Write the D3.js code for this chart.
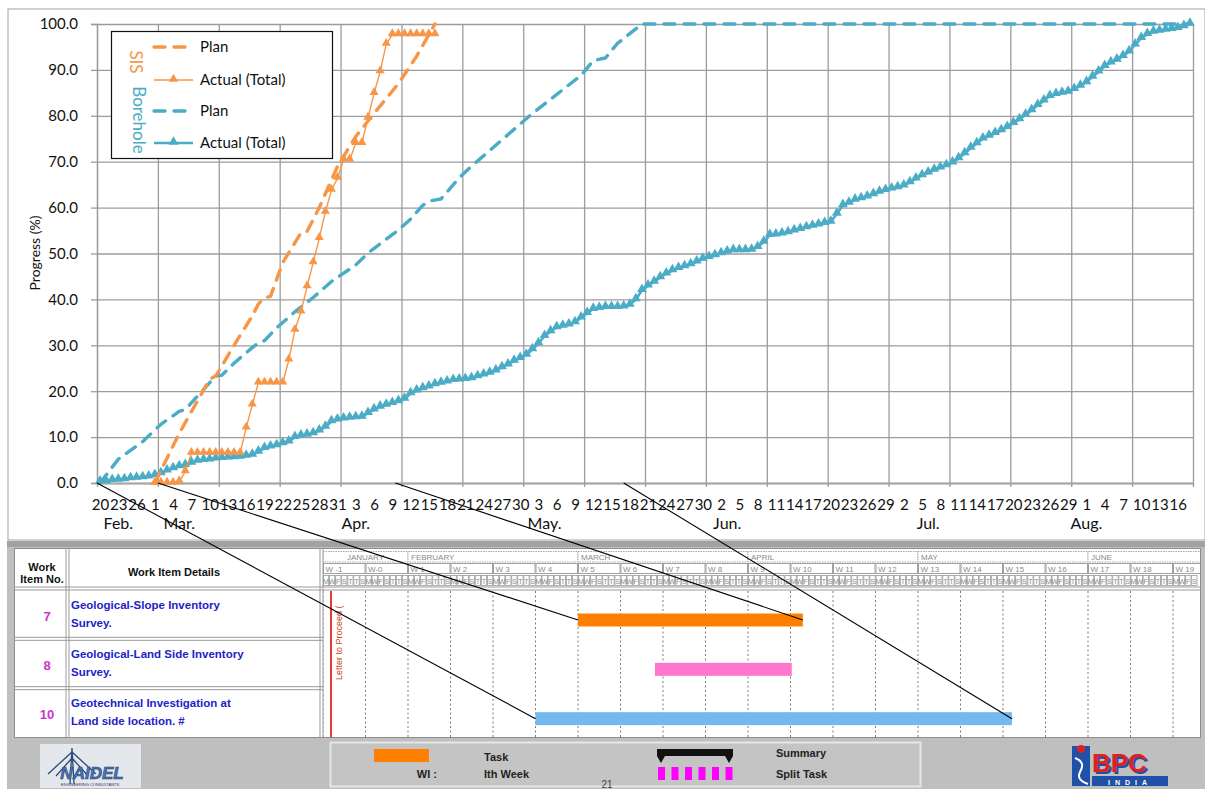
<!DOCTYPE html>
<html>
<head>
<meta charset="utf-8">
<script src="https://cdn.jsdelivr.net/npm/d3@7"></script>
<style>
  body { margin: 0; background: #fff; }
  svg { display: block; font-family: Lato, "Liberation Sans", sans-serif; }
  .grid line { stroke: #9c9c9c; stroke-width: 1.3; }
  .grid path { display: none; }
  .axis text { font-size: 15px; fill: #111; font-family: Lato, sans-serif; }
  .gantt text { font-family: "Liberation Sans", Arial, sans-serif; }
</style>
</head>
<body>
<div id="chart"></div>
<script>
var width = 1205, height = 789
var plot = {left: 97, right: 1193, top: 24, bottom: 483}

// ---------- chart data ----------
var startDay = '2019-02-20'
var endDay = '2019-08-19'
var xLabelStep = 3
var gridStepDays = 10
var yTicks = [0, 10, 20, 30, 40, 50, 60, 70, 80, 90, 100]

var monthLabels = ['Feb.', 'Mar.', 'Apr.', 'May.', 'Jun.', 'Jul.', 'Aug.']
var monthLabelDates = ['2019-02-23', '2019-03-05', '2019-04-03', '2019-05-04', '2019-06-03', '2019-07-06', '2019-08-01']

// SIS
var sisPlanDates = ['2019-03-01', '2019-03-05', '2019-03-10', '2019-03-11', '2019-03-14', '2019-03-17', '2019-03-18',
  '2019-03-19', '2019-03-20', '2019-03-22', '2019-03-25', '2019-03-26', '2019-03-28', '2019-03-31', '2019-04-03',
  '2019-04-06', '2019-04-10', '2019-04-13', '2019-04-16']
var sisPlanValues = [0, 10.8, 22.6, 23.3, 30, 36.4, 39, 40.3, 40.7, 48, 54.5, 54.8, 60, 69, 75.5, 80.5, 87, 93, 100]

var sisActualStart = '2019-03-01'   // one value per day
var sisActualValues = [0, 0, 0, 0, 0.3, 2.5, 6.5, 6.5, 6.5, 6.5, 6.5, 6.5, 6.5, 6.5, 6.5, 12, 17,
  21.8, 21.8, 21.8, 21.8, 21.8, 26.8, 33.3, 37.3, 42.8, 48, 53.3, 59, 63.8, 66.4, 70.4, 70.4, 74, 74,
  79.5, 84.9, 89.6, 95.6, 97.7, 97.7, 97.7, 97.7, 97.7, 97.7, 97.7, 97.7]

// Borehole
var borePlanDates = ['2019-02-20', '2019-02-23', '2019-02-27', '2019-03-02', '2019-03-05', '2019-03-06', '2019-03-11',
  '2019-03-12', '2019-03-14', '2019-03-17', '2019-03-18', '2019-03-19', '2019-03-21', '2019-03-24', '2019-03-27',
  '2019-03-30', '2019-04-03', '2019-04-05', '2019-04-09', '2019-04-10', '2019-04-12', '2019-04-14', '2019-04-15',
  '2019-04-17', '2019-04-20', '2019-04-22', '2019-05-02', '2019-05-10', '2019-05-12', '2019-05-14', '2019-05-16',
  '2019-05-20', '2019-08-18']
var borePlanValues = [0, 5.2, 9.0, 12.8, 15.6, 16.0, 23.3, 23.5, 26.1, 29.5, 30.5, 31.0, 33.8, 37.3, 40.4, 43.9,
  47.5, 50.1, 54.1, 55.1, 57.5, 60.5, 61.4, 61.9, 66.5, 69, 80.5, 88.8, 92, 92.6, 95.8, 100, 100]

var boreActualStart = '2019-02-20'  // one value per day
var boreActualValues = [
  0.3, 0.4, 0.6, 0.7, 0.8, 1.0, 1.1, 1.2, 1.4, 1.7,
  2.1, 2.7, 3.2, 3.6, 3.9, 4.4, 4.8, 5.0, 5.1, 5.3,
  5.4, 5.5, 5.6, 5.7, 5.9, 6.1, 6.8, 7.6, 7.9, 8.2,
  8.6, 9.0, 10.0, 10.3, 10.5, 10.8, 11.4, 12.2, 13.4, 13.8,
  14.0, 14.2, 14.3, 14.4, 15.2, 16.0, 16.6, 17.0, 17.4, 17.8,
  18.3, 19.5, 20.1, 20.6, 21.0, 21.5, 21.8, 22.1, 22.4, 22.5,
  22.6, 22.8, 23.2, 23.6, 24.0, 24.5, 25.2, 25.8, 26.6, 27.2,
  27.9, 29.1, 30.4, 32.0, 33.0, 33.9, 34.2, 34.5, 35.0, 36.0,
  37.0, 37.9, 38.1, 38.3, 38.3, 38.3, 38.4, 38.8, 40.0, 42.0,
  43.0, 43.8, 44.8, 45.6, 46.3, 46.8, 47.2, 47.6, 48.2, 48.8,
  49.2, 49.6, 50.0, 50.4, 50.7, 50.7, 50.7, 50.8, 51.4, 52.5,
  54.0, 54.1, 54.3, 54.6, 55.0, 55.3, 55.7, 56.0, 56.3, 56.6,
  56.9, 58.6, 60.5, 61.0, 61.7, 62.0, 62.4, 62.9, 63.4, 63.8,
  64.1, 64.4, 64.8, 65.5, 66.3, 67.0, 67.6, 68.2, 68.7, 69.2,
  69.8, 70.7, 71.8, 73.0, 74.0, 75.0, 75.6, 76.2, 76.8, 77.5,
  78.4, 79.2, 80.2, 81.2, 82.3, 83.3, 84.3, 84.7, 85.0, 85.2,
  85.8, 86.5, 87.3, 88.5, 89.6, 90.8, 91.6, 92.2, 93.0, 94.0,
  95.5, 96.9, 97.8, 98.3, 98.5, 98.7, 98.9, 99.1, 99.5, 100.0]

var legendGroups = ['SIS', 'Borehole']
var legendNames = ['Plan', 'Actual (Total)', 'Plan', 'Actual (Total)']

// ---------- gantt data ----------
var ganttMonths = ['JANUARY', 'FEBRUARY', 'MARCH', 'APRIL', 'MAY', 'JUNE']
var ganttMonthWeeks = [-1, 1, 5, 9, 13, 17]
var ganttWeekLabels = ['W -1', 'W-0', 'W 1', 'W 2', 'W 3', 'W 4', 'W 5', 'W 6', 'W 7', 'W 8', 'W 9', 'W 10',
  'W 11', 'W 12', 'W 13', 'W 14', 'W 15', 'W 16', 'W 17', 'W 18', 'W 19']
var ganttDayLetters = ['M', 'W', 'F', 'S', 'T', 'T', 'S']
var taskIds = ['7', '8', '10']
var taskLine1 = ['Geological-Slope Inventory', 'Geological-Land Side Inventory', 'Geotechnical Investigation at']
var taskLine2 = ['Survey.', 'Survey.', 'Land side location. #']
var taskStartWeek = [5, 6.81, 4]
var taskEndWeek = [10.29, 10.03, 15.21]

// lines that tie the progress chart to the gantt bars
var connectorDates = ['2019-02-20T00', '2019-03-02T00', '2019-04-10T00', '2019-05-17T12']
var connectorTask = [2, 0, 0, 2]
var connectorEnd = ['start', 'start', 'end', 'end']

// ---------- styles ----------
var orange = '#F79646', blue = '#4BACC6'
var taskColors = ['#FF8000', '#FF77CC', '#74B9EE']

var parseDay = d3.timeParse('%Y-%m-%d')
var parseHour = d3.timeParse('%Y-%m-%dT%H')
var noon = d => d3.timeHour.offset(d, 12)

var svg = d3.select('#chart').append('svg')
  .attr('width', width)
  .attr('height', height)

// chart frame
svg.append('rect')
  .attr('x', 8).attr('y', 9)
  .attr('width', width - 8).attr('height', 531)
  .attr('fill', '#fff')
  .attr('stroke', '#a0a0a0')

var x = d3.scaleTime()
  .domain([parseDay(startDay), parseDay(endDay)])
  .range([plot.left, plot.right])

var y = d3.scaleLinear()
  .domain([0, 100])
  .range([plot.bottom, plot.top])

var gridDays = d3.range(0, 181, gridStepDays).map(i => d3.timeDay.offset(parseDay(startDay), i))

// Y grid
svg.append('g')
  .attr('class', 'grid')
  .attr('transform', `translate(${plot.left},0)`)
  .call(d3.axisLeft(y).tickValues(yTicks).tickSize(-(plot.right - plot.left)).tickFormat(''))

// X grid
svg.append('g')
  .attr('class', 'grid')
  .attr('transform', `translate(0,${plot.bottom})`)
  .call(d3.axisBottom(x).tickValues(gridDays).tickSize(-(plot.bottom - plot.top)).tickFormat(''))

// Y axis
var yAxisG = svg.append('g')
  .attr('class', 'axis')
  .attr('transform', `translate(${plot.left},0)`)
  .call(d3.axisLeft(y).tickValues(yTicks).tickSize(6).tickPadding(13).tickFormat(d3.format('.1f')))
yAxisG.selectAll('line, path').attr('stroke', '#9c9c9c').attr('stroke-width', 1.3)

// X axis line + ticks
var xAxisG = svg.append('g')
  .attr('class', 'axis')
  .attr('transform', `translate(0,${plot.bottom})`)
  .call(d3.axisBottom(x).tickValues(gridDays).tickSize(4).tickSizeOuter(0).tickFormat(''))
xAxisG.selectAll('line').attr('stroke', '#9c9c9c').attr('stroke-width', 1.3)
xAxisG.select('.domain').attr('stroke', '#a8a8a8').attr('stroke-width', 2.2)

// X labels, every 3 days
var labelDays = d3.range(0, 178, xLabelStep).map(i => noon(d3.timeDay.offset(parseDay(startDay), i)))
svg.append('g')
  .attr('class', 'axis')
  .attr('transform', `translate(0,${plot.bottom})`)
  .call(d3.axisBottom(x).tickValues(labelDays).tickSize(0).tickPadding(16).tickFormat(d3.timeFormat('%-d')))
  .call(g => g.select('.domain').remove())

svg.append('g')
  .selectAll('text')
  .data(monthLabels)
  .enter()
  .append('text')
  .attr('x', (d, i) => x(noon(parseDay(monthLabelDates[i]))))
  .attr('y', 529)
  .attr('text-anchor', 'middle')
  .style('font-size', '16px')
  .style('fill', '#111')
  .text(d => d)

// Y title
svg.append('text')
  .attr('transform', 'translate(40,253) rotate(-90)')
  .attr('text-anchor', 'middle')
  .style('font-size', '14px')
  .style('fill', '#111')
  .text('Progress (%)')

// ---------- series ----------
var line = d3.line()
  .x(d => x(noon(d.date)))
  .y(d => y(d.v))

var sisPlan = sisPlanDates.map((d, i) => ({date: parseDay(d), v: sisPlanValues[i]}))
var borePlan = borePlanDates.map((d, i) => ({date: parseDay(d), v: borePlanValues[i]}))
var sisActual = sisActualValues.map((v, i) => ({date: d3.timeDay.offset(parseDay(sisActualStart), i), v: v}))
var boreActual = boreActualValues.map((v, i) => ({date: d3.timeDay.offset(parseDay(boreActualStart), i), v: v}))

var tri = d3.symbol().type(d3.symbolTriangle)

function drawPlan(data, color) {
  svg.append('path')
    .datum(data)
    .attr('d', line)
    .attr('fill', 'none')
    .attr('stroke', color)
    .attr('stroke-width', 3.4)
    .attr('stroke-dasharray', '11,9')
    .attr('stroke-linecap', 'round')
}

function drawActual(data, color, w, size) {
  svg.append('path')
    .datum(data)
    .attr('d', line)
    .attr('fill', 'none')
    .attr('stroke', color)
    .attr('stroke-width', w)
  svg.append('g')
    .selectAll('path')
    .data(data)
    .enter()
    .append('path')
    .attr('d', tri.size(size)())
    .attr('transform', d => `translate(${x(noon(d.date))},${y(d.v) - 1})`)
    .attr('fill', color)
}

drawPlan(borePlan, blue)
drawActual(boreActual, blue, 2.6, 42)
drawPlan(sisPlan, orange)
drawActual(sisActual, orange, 1.4, 36)

// ---------- legend ----------
var legend = svg.append('g')
legend.append('rect')
  .attr('x', 111.5).attr('y', 31.5)
  .attr('width', 221).attr('height', 127)
  .attr('fill', '#fff')
  .attr('stroke', '#111')
  .attr('stroke-width', 1.2)

var legendRowY = [47, 80, 111, 143]
legendNames.forEach((name, i) => {
  var color = i < 2 ? orange : blue
  var yy = legendRowY[i]
  var s = legend.append('line')
    .attr('x1', 154).attr('x2', 193)
    .attr('y1', yy).attr('y2', yy)
    .attr('stroke', color)
  if (i % 2 === 0) {
    s.attr('stroke-width', 3.4).attr('stroke-dasharray', '11,9').attr('stroke-linecap', 'round')
  } else {
    s.attr('stroke-width', i === 1 ? 1.4 : 2.6)
    legend.append('path')
      .attr('d', tri.size(i === 1 ? 36 : 42)())
      .attr('transform', `translate(173.5,${yy - 1})`)
      .attr('fill', color)
  }
  legend.append('text')
    .attr('x', 200).attr('y', yy + 5)
    .style('font-size', '15px')
    .style('fill', '#111')
    .text(name)
})

legend.selectAll('.grp')
  .data(legendGroups)
  .enter()
  .append('text')
  .attr('transform', (d, i) => i === 0 ? 'translate(130,62) rotate(90)' : 'translate(133,120) rotate(90)')
  .attr('text-anchor', 'middle')
  .style('font-size', '17px')
  .style('fill', (d, i) => i === 0 ? orange : blue)
  .text(d => d)

// ---------- gantt ----------
var gantt = svg.append('g').attr('class', 'gantt')

gantt.append('rect').attr('x', 7).attr('y', 541).attr('width', width - 7).attr('height', height - 541).attr('fill', '#bfbfbf')
gantt.append('rect').attr('x', 7).attr('y', 541).attr('width', width - 7).attr('height', 6).attr('fill', '#a2a2a2')
gantt.append('rect')
  .attr('x', 14.5).attr('y', 548.5)
  .attr('width', 1186).attr('height', 189)
  .attr('fill', '#fff')
  .attr('stroke', '#8c8c8c')

var gx = d3.scaleLinear().domain([-1, 20]).range([323, 323 + 21 * 42.5])
var rowY = d3.scaleBand().domain(taskIds).range([589.5, 737.5])
var tlRight = 1200

gantt.append('clipPath').attr('id', 'tl-clip')
  .append('rect').attr('x', 323).attr('y', 548).attr('width', tlRight - 323).attr('height', 190)

var tl = gantt.append('g').attr('clip-path', 'url(#tl-clip)')

// month row
tl.selectAll('.month')
  .data(ganttMonths)
  .enter()
  .append('rect')
  .attr('x', (d, i) => gx(ganttMonthWeeks[i]))
  .attr('y', 551.5)
  .attr('width', (d, i) => gx(i < ganttMonths.length - 1 ? ganttMonthWeeks[i + 1] : 21) - gx(ganttMonthWeeks[i]))
  .attr('height', 10.5)
  .attr('fill', '#fff')
  .attr('stroke', '#a8a8a8')
  .attr('stroke-dasharray', '1.5,1')
gantt.selectAll('.monthText')
  .data(ganttMonths)
  .enter()
  .append('text')
  .attr('x', (d, i) => i === 0 ? (gx(-1) + gx(1)) / 2 : gx(ganttMonthWeeks[i]) + 3)
  .attr('y', 560)
  .attr('text-anchor', (d, i) => i === 0 ? 'middle' : 'start')
  .style('font-size', '8px')
  .style('fill', '#8a8a8a')
  .text(d => d)

// week row
tl.selectAll('.week')
  .data(ganttWeekLabels)
  .enter()
  .append('rect')
  .attr('x', (d, i) => gx(i - 1) + 0.5)
  .attr('y', 563.5)
  .attr('width', 41.5)
  .attr('height', 10)
  .attr('fill', '#fff')
  .attr('stroke', '#a0a0a0')
gantt.selectAll('.weekText')
  .data(ganttWeekLabels)
  .enter()
  .append('text')
  .attr('x', (d, i) => gx(i - 1) + 2.5)
  .attr('y', 571.5)
  .style('font-size', '8px')
  .style('fill', '#8a8a8a')
  .text(d => d)

// day row (only whole cells)
var dayW = 42.5 / 7
var dayCells = []
ganttWeekLabels.forEach((w, i) => ganttDayLetters.forEach((l, j) => dayCells.push({week: i - 1 + j / 7, letter: l})))
dayCells = dayCells.filter(d => gx(d.week) + dayW <= tlRight)
gantt.selectAll('.day')
  .data(dayCells)
  .enter()
  .append('rect')
  .attr('x', d => gx(d.week) + 0.5)
  .attr('y', 575.5)
  .attr('width', dayW - 0.8)
  .attr('height', 10)
  .attr('fill', '#fff')
  .attr('stroke', '#9a9a9a')
  .attr('stroke-width', 0.8)
gantt.selectAll('.dayText')
  .data(dayCells)
  .enter()
  .append('text')
  .attr('x', d => gx(d.week) + dayW / 2)
  .attr('y', 583.5)
  .attr('text-anchor', 'middle')
  .style('font-size', '7px')
  .style('fill', '#8a8a8a')
  .text(d => d.letter)

// dashed week lines
tl.selectAll('.wline')
  .data(d3.range(-1, 21))
  .enter()
  .append('line')
  .attr('x1', d => gx(d)).attr('x2', d => gx(d))
  .attr('y1', 591).attr('y2', 737)
  .attr('stroke', '#7a7a7a')
  .attr('stroke-dasharray', '2,2.5')

// table lines
var tlines = gantt.append('g').attr('stroke', '#9a9a9a').attr('fill', 'none')
;[587, 590].forEach(v => tlines.append('line').attr('x1', 14.5).attr('x2', 1200.5).attr('y1', v).attr('y2', v))
;[66, 69, 320, 323].forEach(v => tlines.append('line').attr('x1', v).attr('x2', v).attr('y1', 548.5).attr('y2', 737.5))
taskIds.slice(1).forEach(id => {
  var t = rowY(id)
  ;[t - 1.5, t + 1.5].forEach(v => tlines.append('line').attr('x1', 14.5).attr('x2', 323).attr('y1', v).attr('y2', v))
})

// header text
var hdr = gantt.append('g').style('font-weight', 'bold').style('fill', '#111').attr('text-anchor', 'middle')
hdr.append('text').attr('x', 42).attr('y', 571).style('font-size', '11px').text('Work')
hdr.append('text').attr('x', 42).attr('y', 583).style('font-size', '11px').text('Item No.')
hdr.append('text').attr('x', 174).attr('y', 576).style('font-size', '11px').text('Work Item Details')

// task rows
gantt.selectAll('.tid')
  .data(taskIds)
  .enter()
  .append('text')
  .attr('x', 47)
  .attr('y', d => rowY(d) + 31)
  .attr('text-anchor', 'middle')
  .style('font-size', '13px')
  .style('font-weight', 'bold')
  .style('fill', '#CC33CC')
  .text(d => d)

gantt.selectAll('.tl1')
  .data(taskIds)
  .enter()
  .append('text')
  .attr('x', 71)
  .attr('y', d => rowY(d) + 19)
  .style('font-size', '11.5px')
  .style('font-weight', 'bold')
  .style('fill', '#2222C8')
  .text((d, i) => taskLine1[i])

gantt.selectAll('.tl2')
  .data(taskIds)
  .enter()
  .append('text')
  .attr('x', 71)
  .attr('y', d => rowY(d) + 37)
  .style('font-size', '11.5px')
  .style('font-weight', 'bold')
  .style('fill', '#2222C8')
  .text((d, i) => taskLine2[i])

// letter to proceed
gantt.append('line')
  .attr('x1', 331).attr('x2', 331)
  .attr('y1', 591).attr('y2', 737)
  .attr('stroke', '#E8383A')
  .attr('stroke-width', 2)
gantt.append('text')
  .attr('transform', 'translate(342,680) rotate(-90)')
  .style('font-size', '9px')
  .style('fill', '#D04020')
  .text('Letter to Proceed (')

// bars
gantt.selectAll('.bar')
  .data(taskIds)
  .enter()
  .append('rect')
  .attr('x', (d, i) => gx(taskStartWeek[i]))
  .attr('y', d => rowY(d) + 24)
  .attr('width', (d, i) => gx(taskEndWeek[i]) - gx(taskStartWeek[i]))
  .attr('height', 13)
  .attr('fill', (d, i) => taskColors[i])

// footer legend
var foot = gantt.append('g')
foot.append('rect')
  .attr('x', 330.5).attr('y', 742.5)
  .attr('width', 590).attr('height', 44)
  .attr('fill', '#c4c4c4')
  .attr('stroke', '#e6e6e6')
  .attr('stroke-width', 2)
foot.append('rect').attr('x', 374).attr('y', 749).attr('width', 55).attr('height', 13).attr('fill', '#FF8000')
foot.append('path')
  .attr('d', 'M657,749H733V756L729,763L725,756H665L661,763L657,756Z')
  .attr('fill', '#111')
foot.selectAll('.split')
  .data(d3.range(6))
  .enter()
  .append('rect')
  .attr('x', d => 658 + d * 13.5)
  .attr('y', 767)
  .attr('width', 7)
  .attr('height', 13)
  .attr('fill', '#FF00FF')
var ft = foot.append('g').style('font-size', '11px').style('font-weight', 'bold').style('fill', '#222')
ft.append('text').attr('x', 484).attr('y', 761).text('Task')
ft.append('text').attr('x', 437).attr('y', 778).attr('text-anchor', 'end').text('WI :')
ft.append('text').attr('x', 484).attr('y', 778).text('Ith Week')
ft.append('text').attr('x', 776).attr('y', 757).text('Summary')
ft.append('text').attr('x', 776).attr('y', 778).text('Split Task')
foot.append('text').attr('x', 607).attr('y', 788).attr('text-anchor', 'middle')
  .style('font-size', '10px').style('fill', '#444').text('21')

// left logo
var lg = gantt.append('g')
lg.append('rect').attr('x', 40).attr('y', 744).attr('width', 101).attr('height', 44).attr('fill', '#e4e8ec')
lg.append('path')
  .attr('d', 'M72,748L70,784M72,748L74,784M72,752L48,774M72,752L96,774M72,758L56,776M72,758L88,776')
  .attr('stroke', '#2a4a7a').attr('stroke-width', 1.3).attr('fill', 'none')
lg.append('text').attr('x', 92).attr('y', 779).attr('text-anchor', 'middle')
  .style('font-size', '17px').style('font-weight', 'bold').style('font-style', 'italic')
  .style('fill', '#4a78b8').attr('stroke', '#1f3f70').attr('stroke-width', 0.6)
  .text('NAIDEL')
lg.append('text').attr('x', 90).attr('y', 786).attr('text-anchor', 'middle')
  .style('font-size', '4px').style('fill', '#335').text('ENGINEERING CONSULTANTS')

// right logo
var rl = gantt.append('g')
rl.append('rect').attr('x', 1072).attr('y', 746).attr('width', 18).attr('height', 40).attr('fill', '#2050A8')
rl.append('circle').attr('cx', 1081).attr('cy', 749).attr('r', 4).attr('fill', '#E02020')
rl.append('path').attr('d', 'M1075,758Q1086,762 1080,772Q1076,780 1088,784').attr('stroke', '#fff').attr('stroke-width', 2).attr('fill', 'none')
rl.append('rect').attr('x', 1092).attr('y', 776).attr('width', 76).attr('height', 10).attr('fill', '#2050A8')
rl.append('text').attr('x', 1092).attr('y', 772).style('font-size', '26px').style('font-weight', 'bold')
  .style('fill', '#E02020').style('text-shadow', '2px 2px 0 #2050A8').text('BPC')
rl.append('text').attr('x', 1130).attr('y', 784.5).attr('text-anchor', 'middle')
  .style('font-size', '7px').style('font-weight', 'bold').style('fill', '#fff').style('letter-spacing', '5px')
  .text('INDIA')

// connector lines
svg.append('g')
  .selectAll('line')
  .data(connectorDates)
  .enter()
  .append('line')
  .attr('x1', d => x(parseHour(d)))
  .attr('y1', y(0))
  .attr('x2', (d, i) => gx(connectorEnd[i] === 'start' ? taskStartWeek[connectorTask[i]] : taskEndWeek[connectorTask[i]]))
  .attr('y2', (d, i) => rowY(taskIds[connectorTask[i]]) + 30.5)
  .attr('stroke', '#000')
  .attr('stroke-width', 1.1)
</script>
</body>
</html>
